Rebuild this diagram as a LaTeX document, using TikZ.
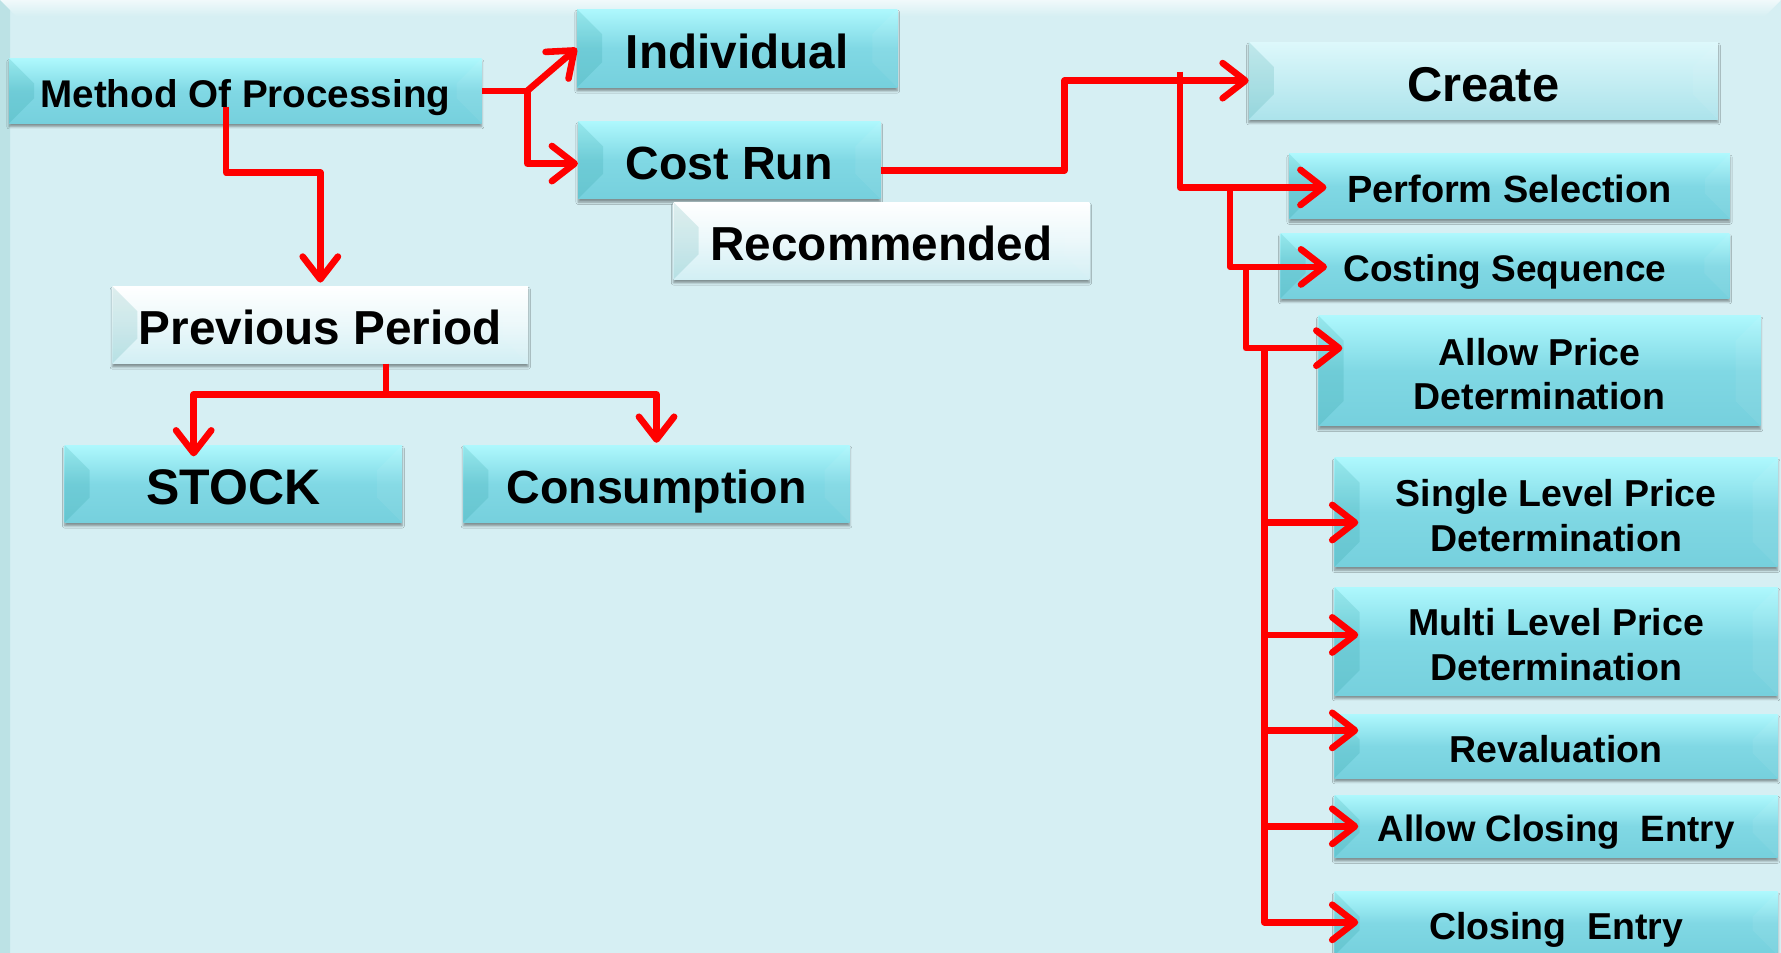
\documentclass[tikz,border=0pt]{standalone}
\usepackage{fontspec}
\setmainfont{Liberation Sans}
\usetikzlibrary{arrows.meta,calc,shadows.blur}

\definecolor{fondo}{HTML}{D6EFF3}
\definecolor{cajaarriba}{HTML}{AEF8FD}
\definecolor{cajamedio}{HTML}{80D8E4}
\definecolor{cajaabajo}{HTML}{76D0DD}
\definecolor{blancoabajo}{HTML}{D2EFF4}
\definecolor{crearriba}{HTML}{DDF8FB}
\definecolor{creabajo}{HTML}{ACE3EB}
\definecolor{rojo}{HTML}{FF0000}

% primera linea de las cajas con dos lineas
\newcommand{\dosl}[2]{\rule{0pt}{1.1em}#1\\#2}

\tikzset{
  bevel/.style={path picture={
      \coordinate (pnw) at (path picture bounding box.north west);
      \coordinate (pse) at (path picture bounding box.south east);
      \fill[teal,opacity=.13] (pnw) -- ++(22,-22) -- ($(pnw |- pse)+(22,22)$) -- (pnw |- pse) -- cycle;
      \fill[white,opacity=.06] (pnw -| pse) -- ++(-22,-22) -- ($(pse)+(-22,22)$) -- (pse) -- cycle;
    }},
  placa/.style={inner sep=0pt, align=center, text=black, bevel,
    execute at begin node={\rule{0pt}{1.05em}},
    execute at end node={\vphantom{p}},
    blur shadow={shadow xshift=0pt,shadow yshift=-3pt,shadow blur radius=2pt,shadow opacity=40}},
  cajacian/.style={placa, top color=cajaarriba, bottom color=cajaabajo, middle color=cajamedio},
  cajablanca/.style={placa, top color=white, bottom color=blancoabajo, middle color=white!55!blancoabajo},
  cajacrear/.style={placa, top color=crearriba, bottom color=creabajo, middle color=crearriba!50!creabajo},
  txt/.style={font=\fontsize{#1}{39}\selectfont\bfseries},
  linea/.style={rojo, line width=5.8pt, line join=round},
  flecha/.style={linea, -{Straight Barb[length=20pt,width=31pt,round]}},
}

\begin{document}
\begin{tikzpicture}[x=1pt,y=1pt]
        \useasboundingbox (0,0) rectangle (1568,-839);

        % Fondo
        \fill[fondo] (0,0) rectangle (1568,-839);
        \shade[top color=white!65!fondo, bottom color=fondo] (0,0) -- (1568,0) -- (1554,-14) -- (14,-14) -- cycle;
        \fill[fondo!88!teal] (0,0) -- (9,-9) -- (9,-839) -- (0,-839) -- cycle;

        % Cajas de la izquierda
        \node[cajacian, txt=34, minimum width=416, minimum height=57] (method) at (216,-80) {Method Of Processing};
        \node[cajacian, txt=42, minimum width=282, minimum height=69] (indiv) at (649,-42.5) {Individual};
        \node[cajacian, txt=41, minimum width=266, minimum height=68] (costrun) at (642,-141) {Cost Run};
        \node[cajablanca, txt=42, minimum width=366, minimum height=68] (recomm) at (776,-212) {Recommended};
        \node[cajablanca, txt=42, minimum width=366, minimum height=68] (prev) at (282,-286) {Previous Period};
        \node[cajacian, txt=44, minimum width=297, minimum height=68] (stock) at (205.5,-426) {STOCK};
        \node[cajacian, txt=41, minimum width=340, minimum height=68] (cons) at (578,-426) {Consumption};

        % Cajas de la derecha
        \node[cajacrear, txt=43, minimum width=413, minimum height=68] (create) at (1306,-71) {Create};
        \node[cajacian, txt=33.4, minimum width=388, minimum height=57] (perf) at (1329,-164) {Perform Selection};
        \node[cajacian, txt=32.6, minimum width=395, minimum height=57] (costing) at (1325,-234) {Costing Sequence};
        \node[cajacian, txt=33, minimum width=389, minimum height=97] (allowp) at (1355.5,-326.5) {\dosl{Allow Price}{Determination}};
        \node[cajacian, txt=33, minimum width=390, minimum height=96] (single) at (1370,-451) {\dosl{Single Level Price}{Determination}};
        \node[cajacian, txt=33, minimum width=390, minimum height=95] (multi) at (1370,-564.5) {\dosl{Multi Level Price}{Determination}};
        \node[cajacian, txt=33, minimum width=390, minimum height=56] (reval) at (1370,-657) {Revaluation};
        \node[cajacian, txt=32.3, minimum width=390, minimum height=55] (aclose) at (1370,-727.5) {Allow Closing\ \ Entry};
        \node[cajacian, txt=33, minimum width=390, minimum height=56] (close) at (1370,-813) {Closing\ \ Entry};

        % Flechas desde Method Of Processing
        \draw[linea] (method.east) -- ++(40,0) coordinate (fork1);
        \draw[flecha] (fork1) -- (indiv.west);
        \draw[flecha] (fork1) |- ([yshift=-3]costrun.west);
        \draw[flecha] ($(method.center)+(-17,-14)$) -- ++(0,-58) -| ([yshift=3]prev.north);

        % Previous Period hacia STOCK y Consumption
        \draw[linea] ([xshift=58]prev.south) -- ++(0,-27) coordinate (fork2);
        \draw[flecha] (fork2) -| ([xshift=-35,yshift=-10]stock.north);
        \draw[flecha] (fork2) -| ([yshift=2]cons.north);

        % Cost Run hacia Create
        \draw[flecha] ([yshift=-9]costrun.east) -- ++(162,0) |- (create.west);

        % Escalera de la derecha
        \coordinate (spine1) at (1039,-63);
        \coordinate (spine2) at (1083,-165);
        \coordinate (spine3) at (1097,-235);
        \coordinate (spine4) at (1113,-306.5);
        \draw[flecha] (spine1) |- ([xshift=33,yshift=-1]perf.west);
        \draw[flecha] (spine2) |- ([xshift=41,yshift=-1]costing.west);
        \draw[flecha] (spine3) |- ([xshift=21,yshift=20]allowp.west);
        \foreach \n/\dy in {single/-9,multi/5.5,reval/14,aclose/0,close/1}
          \draw[flecha] (spine4) |- ([xshift=21,yshift=\dy]\n.west);
\end{tikzpicture}
\end{document}
